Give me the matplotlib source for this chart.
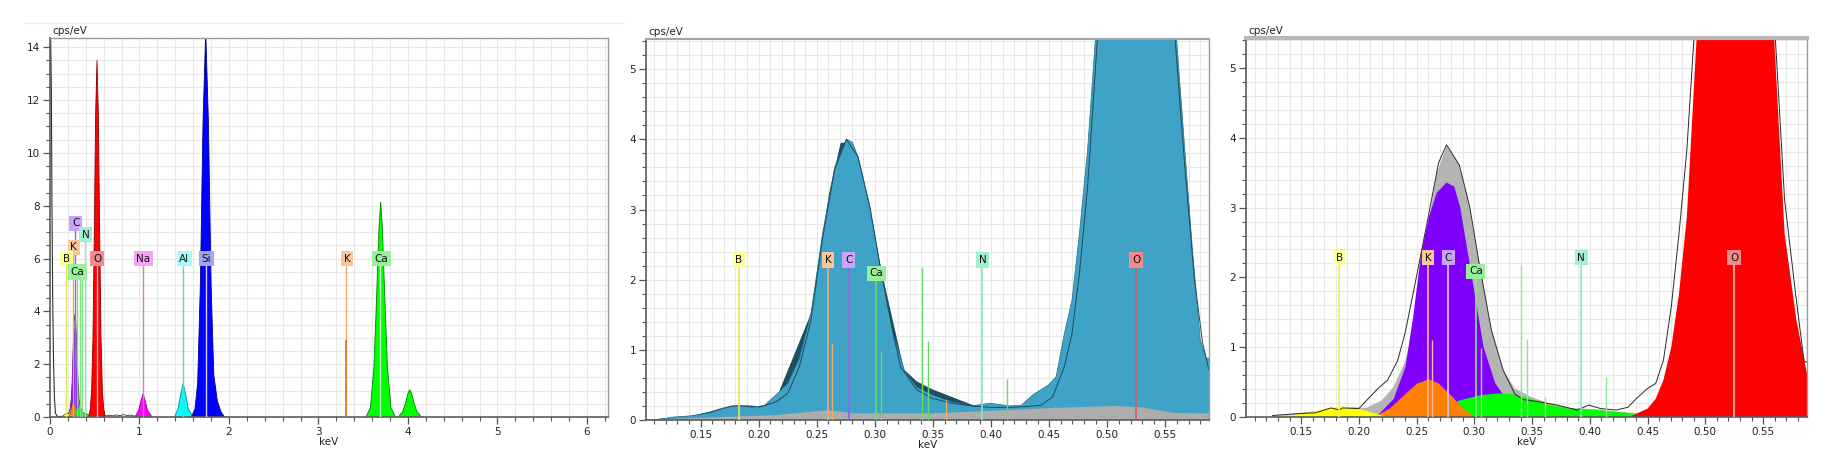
import matplotlib
matplotlib.use('Agg')
import matplotlib.pyplot as plt
from matplotlib.lines import Line2D
from matplotlib.ticker import MultipleLocator, FormatStrFormatter

# ---------------- data (keV, cps/eV) ----------------
# Panel 1: full spectrum peaks
noise_kev = [0.0, 0.008, 0.015, 0.022, 0.03, 0.04, 0.05, 0.06, 0.08, 0.10, 0.12]
noise_cps = [14.5, 14.2, 12.5, 8.0, 4.5, 2.0, 0.7, 0.15, 0.03, 0.02, 0.02]
base_kev = [0.62, 0.66, 0.70, 0.74, 0.78, 0.82, 0.86, 0.90, 0.95]
base_cps = [0.03, 0.07, 0.04, 0.08, 0.05, 0.09, 0.06, 0.07, 0.03]
o_kev = [0.4366, 0.45, 0.457, 0.4637, 0.4705, 0.4772, 0.484, 0.4925, 0.50, 0.51,
         0.525, 0.54, 0.55, 0.5595, 0.5686, 0.5788, 0.588, 0.60, 0.615]
o_cps = [0.02, 0.12, 0.26, 0.53, 1.0, 1.77, 2.87, 5.45, 8.0, 11.0,
         13.5, 11.0, 8.0, 5.45, 2.63, 1.39, 0.62, 0.2, 0.0]
o1_kev = [0.43, 0.45, 0.465, 0.48, 0.495, 0.51, 0.525, 0.54, 0.555, 0.57,
          0.585, 0.60, 0.62]
o1_cps = [0.0, 0.3, 1.0, 3.0, 7.0, 11.5, 13.5, 11.5, 7.0, 3.0,
          1.0, 0.3, 0.0]
na_kev = [0.95, 0.99, 1.015, 1.04, 1.065, 1.09, 1.14]
na_cps = [0.0, 0.25, 0.6, 0.88, 0.6, 0.25, 0.0]
al_kev = [1.39, 1.43, 1.46, 1.488, 1.515, 1.545, 1.60]
al_cps = [0.0, 0.3, 0.85, 1.29, 0.85, 0.3, 0.0]
si_kev = [1.58, 1.62, 1.65, 1.68, 1.71, 1.74, 1.77, 1.80, 1.83, 1.87, 1.91, 1.95]
si_cps = [0.0, 0.3, 1.3, 5.0, 11.2, 14.6, 11.2, 5.0, 1.6, 0.6, 0.2, 0.0]
caka_kev = [3.53, 3.58, 3.62, 3.65, 3.675, 3.695, 3.715, 3.74, 3.77, 3.81, 3.86]
caka_cps = [0.0, 0.35, 1.9, 4.6, 7.1, 8.13, 7.1, 4.6, 1.9, 0.35, 0.0]
cakb_kev = [3.89, 3.94, 3.975, 4.0, 4.02, 4.04, 4.065, 4.10, 4.15]
cakb_cps = [0.0, 0.2, 0.55, 0.9, 1.03, 0.9, 0.55, 0.2, 0.0]

# Low-energy region (panels 1 and 3): deconvolution
meas_kev = [0.1253, 0.132, 0.149, 0.1625, 0.176, 0.183, 0.186, 0.20, 0.208, 0.2167,
            0.225, 0.2336, 0.240, 0.2505, 0.2607, 0.269, 0.2759, 0.287, 0.296, 0.3047,
            0.3148, 0.325, 0.335, 0.342, 0.3554, 0.372, 0.389, 0.399, 0.4096, 0.423,
            0.433, 0.44, 0.450, 0.457, 0.4637, 0.4705, 0.4772, 0.484, 0.4908, 0.50,
            0.525, 0.55, 0.56, 0.5686, 0.5788, 0.5855, 0.588]
meas_cps = [0.02, 0.03, 0.05, 0.06, 0.13, 0.10, 0.13, 0.12, 0.26, 0.41,
            0.53, 0.81, 1.2, 2.06, 2.92, 3.64, 3.9, 3.61, 3.01, 2.15,
            1.24, 0.67, 0.33, 0.25, 0.22, 0.17, 0.10, 0.17, 0.12, 0.10,
            0.14, 0.26, 0.41, 0.48, 0.81, 1.58, 2.63, 3.83, 5.6, 9.0,
            14.0, 9.0, 5.6, 3.11, 1.67, 0.79, 0.79]
total_kev = [0.125, 0.152, 0.179, 0.196, 0.2065, 0.22, 0.23, 0.2404, 0.2471, 0.2539,
             0.2607, 0.2674, 0.2759, 0.286, 0.2945, 0.3047, 0.3148, 0.325, 0.335, 0.3486,
             0.3656, 0.3825, 0.406, 0.4366, 0.45]
total_cps = [0.01, 0.06, 0.13, 0.14, 0.13, 0.24, 0.43, 0.81, 1.29, 2.06,
             2.82, 3.49, 3.88, 3.64, 3.11, 2.15, 1.24, 0.67, 0.41, 0.29,
             0.19, 0.13, 0.11, 0.06, 0.05]
c_kev = [0.215, 0.2302, 0.2404, 0.2471, 0.2539, 0.2607, 0.2674, 0.2759, 0.2826, 0.2877,
         0.2945, 0.3013, 0.308, 0.3182, 0.3284, 0.342, 0.35]
c_cps = [0.0, 0.26, 0.72, 1.44, 2.34, 2.87, 3.21, 3.36, 3.30, 3.01,
         2.34, 1.67, 1.0, 0.48, 0.24, 0.05, 0.0]
k_kev = [0.2133, 0.2268, 0.2404, 0.2505, 0.2607, 0.2691, 0.281, 0.2911, 0.3013]
k_cps = [0.0, 0.12, 0.33, 0.48, 0.54, 0.48, 0.29, 0.10, 0.0]
ca_kev = [0.247, 0.2708, 0.2877, 0.3047, 0.3216, 0.3318, 0.3486, 0.3656, 0.3825, 0.406,
          0.4366, 0.45]
ca_cps = [0.0, 0.14, 0.24, 0.31, 0.34, 0.33, 0.26, 0.17, 0.12, 0.10,
          0.05, 0.0]
b_kev = [0.125, 0.1524, 0.166, 0.1794, 0.186, 0.1964, 0.2065, 0.22, 0.227]
b_cps = [0.0, 0.05, 0.10, 0.14, 0.15, 0.13, 0.09, 0.02, 0.0]

# Panel 2: measured spectra
blue_kev = [0.103, 0.115, 0.125, 0.142, 0.158, 0.173, 0.182, 0.195, 0.205, 0.215,
            0.225, 0.235, 0.245, 0.255, 0.2655, 0.2755, 0.2805, 0.2855, 0.2956, 0.3056,
            0.3157, 0.3257, 0.336, 0.349, 0.366, 0.383, 0.399, 0.416, 0.426, 0.436,
            0.4495, 0.456, 0.463, 0.4696, 0.476, 0.483, 0.490, 0.525, 0.5593, 0.5667,
            0.5733, 0.580, 0.5850, 0.5875]
blue_cps = [0.0, 0.01, 0.04, 0.06, 0.10, 0.18, 0.20, 0.18, 0.21, 0.36,
            0.52, 0.88, 1.52, 2.66, 3.61, 4.0, 3.96, 3.75, 3.04, 2.09,
            1.23, 0.69, 0.47, 0.36, 0.26, 0.20, 0.24, 0.20, 0.21, 0.36,
            0.50, 0.62, 1.23, 1.71, 2.66, 3.85, 5.5, 13.5, 5.5, 3.85,
            2.42, 1.14, 0.88, 0.88]
dark_kev = [0.103, 0.142, 0.158, 0.168, 0.178, 0.19, 0.205, 0.215, 0.245, 0.2605,
            0.2705, 0.2805, 0.325, 0.336, 0.349, 0.366, 0.383, 0.395, 0.41]
dark_cps = [0.0, 0.06, 0.12, 0.17, 0.21, 0.21, 0.19, 0.30, 1.52, 3.22,
            3.95, 3.96, 0.72, 0.55, 0.44, 0.33, 0.22, 0.18, 0.15]
fit_kev = [0.20, 0.215, 0.225, 0.235, 0.245, 0.255, 0.2655, 0.2755, 0.2855, 0.2956,
           0.3056, 0.3157, 0.322, 0.336, 0.349, 0.366, 0.383, 0.40, 0.416, 0.4295,
           0.443, 0.453, 0.463, 0.4696, 0.476, 0.483, 0.488, 0.4917, 0.525, 0.558,
           0.5667, 0.575, 0.582, 0.5875]
fit_cps = [0.18, 0.26, 0.38, 0.76, 1.42, 2.6, 3.58, 4.0, 3.75, 3.04,
           2.09, 1.23, 0.76, 0.43, 0.31, 0.24, 0.20, 0.18, 0.18, 0.19,
           0.21, 0.33, 0.76, 1.23, 2.09, 3.32, 4.56, 5.5, 13.5, 5.5,
           3.6, 2.0, 1.1, 0.71]
bg_kev = [0.103, 0.115, 0.215, 0.259, 0.282, 0.349, 0.399, 0.4495, 0.506, 0.53,
          0.557, 0.5875]
bg_cps = [0.0, 0.01, 0.07, 0.14, 0.095, 0.095, 0.13, 0.17, 0.20, 0.18,
          0.10, 0.095]

# Element line markers: (label, label x, label height, line keV)
p1_labels = [("C", 0.288, 7.34, 0.277), ("N", 0.40, 6.9, 0.392), ("K", 0.265, 6.43, 0.260),
             ("B", 0.186, 6.0, 0.183), ("O", 0.527, 6.0, 0.525), ("Na", 1.044, 6.0, 1.041),
             ("Al", 1.50, 6.0, 1.486), ("Si", 1.748, 6.0, 1.740), ("Ca", 0.31, 5.49, 0.302),
             ("K", 3.32, 6.0, 3.313), ("Ca", 3.70, 6.0, 3.691)]
zoom_labels = [("B", 0.183, 2.28), ("K", 0.2598, 2.28), ("C", 0.2775, 2.28),
               ("Ca", 0.3013, 2.09), ("N", 0.3925, 2.28), ("O", 0.5248, 2.28)]
minor_lines_kev = [0.2631, 0.3056, 0.3408, 0.3458, 0.3608, 0.4137]
minor_lines_cps = [1.10, 0.99, 2.18, 1.12, 0.28, 0.58]
minor_lines_el = ["K", "Ca", "Ca", "Ca", "K", "Ca"]

box_col = {"B": "#ffff99", "K": "#f8c79a", "C": "#c9a4fb", "Ca": "#9af09a",
           "N": "#a2f0cf", "O": "#f28c8c", "Na": "#f6a2f6", "Al": "#a4fbfb", "Si": "#a4a4f4"}
line_col2 = {"B": "#e4e458", "K": "#eeaa6a", "C": "#9a62ee", "Ca": "#62dc62",
             "N": "#86e4c4", "O": "#dc5a5a"}
line_col3 = {"B": "#eeee66", "K": "#f6b8a0", "C": "#dccafa", "Ca": "#8ee68e",
             "N": "#86e4c4", "O": "#ffb4b4"}
line_col1 = {"B": "#e4e458", "K": "#eeaa6a", "C": "#9a62ee", "Ca": "#7ee07e",
             "N": "#8ee8c8", "O": "#ffb4b4", "Na": "#d47ad4", "Al": "#66d0d6", "Si": "#d4d4ff"}

# ---------------- figure ----------------
plt.rcParams['font.family'] = ['DejaVu Sans']
fig = plt.figure(figsize=(18.38, 4.66), dpi=100)
W, H = 1838.0, 466.0


def axes_px(l, r, t, b):
    return fig.add_axes([l / W, 1 - b / H, (r - l) / W, (b - t) / H])


ax1 = axes_px(50, 608, 38, 417)
ax2 = axes_px(646, 1209, 39, 420)
ax3 = axes_px(1246, 1807, 38, 417)

fig.add_artist(Line2D([24 / W, 624 / W], [1 - 23 / H] * 2, color='#ececec', lw=1))


def style(ax, xlim, ylim, xmaj, xmin, ymaj, ymin, xfmt, ygrid, xgrid, top_lw, top_col):
    ax.set_xlim(*xlim)
    ax.set_ylim(*ylim)
    ax.xaxis.set_major_locator(MultipleLocator(xmaj))
    ax.xaxis.set_minor_locator(MultipleLocator(xmin))
    ax.yaxis.set_major_locator(MultipleLocator(ymaj))
    ax.yaxis.set_minor_locator(MultipleLocator(ymin))
    if xfmt:
        ax.xaxis.set_major_formatter(FormatStrFormatter(xfmt))
    for v in [i * xgrid for i in range(int(xlim[0] / xgrid), int(xlim[1] / xgrid) + 2)]:
        if xlim[0] < v < xlim[1]:
            ax.axvline(v, color='#e8e8e8', lw=0.8, zorder=0.2)
    for v in [i * ygrid for i in range(0, int(ylim[1] / ygrid) + 2)]:
        if 0 < v < ylim[1]:
            ax.axhline(v, color='#e8e8e8', lw=0.8, zorder=0.2)
    ax.tick_params(which='major', direction='out', length=5, width=0.9, color='#555555',
                   labelsize=7.5, labelcolor='#222222', pad=2)
    ax.tick_params(which='minor', direction='out', length=3, width=0.8, color='#555555')
    for s in ('left', 'bottom'):
        ax.spines[s].set_color('#5a5a5a')
        ax.spines[s].set_linewidth(1.2)
    ax.spines['right'].set_color('#9a9a9a')
    ax.spines['right'].set_linewidth(1.0)
    ax.spines['top'].set_color(top_col)
    ax.spines['top'].set_linewidth(top_lw)
    ax.set_xlabel('keV', fontsize=7.5, labelpad=0, color='#222222')
    ax.text(0.005, 1.004, 'cps/eV', transform=ax.transAxes, fontsize=7.5,
            va='bottom', ha='left', color='#222222')


def label(ax, s, x, y):
    ax.text(x, y, s, ha='center', va='center', fontsize=7.5, color='#111111', zorder=10,
            bbox=dict(boxstyle='square,pad=0.25', fc=box_col[s], ec='none'))


def area(ax, xs, ys, fc, ec=None, z=1, lw=0.6):
    ax.fill_between(xs, 0, ys, facecolor=fc, edgecolor='none', zorder=z)
    if ec:
        ax.plot(xs, ys, color=ec, lw=lw, zorder=z + 0.05)


# ---------- panel 1 ----------
style(ax1, (0, 6.235), (0, 14.35), 1, 0.2, 2, 0.5, None, 0.5, 0.2, 1.0, '#9a9a9a')
area(ax1, total_kev, total_cps, '#b4b4b4', '#303030', z=1)
area(ax1, c_kev, c_cps, '#8000ff', z=1.1)
area(ax1, ca_kev, ca_cps, '#00ff00', z=1.2)
area(ax1, k_kev, k_cps, '#ff8000', z=1.3)
area(ax1, b_kev, b_cps, '#ffff00', z=1.4)
area(ax1, o1_kev, o1_cps, '#ff0000', '#8b0000', z=1.5)
area(ax1, na_kev, na_cps, '#ff00ff', '#900090', z=1.5)
area(ax1, al_kev, al_cps, '#00ffff', '#008b8b', z=1.5)
area(ax1, si_kev, si_cps, '#0000ff', '#00008b', z=1.5)
area(ax1, caka_kev, caka_cps, '#00ff00', '#008000', z=1.5)
area(ax1, cakb_kev, cakb_cps, '#00ff00', '#008000', z=1.5)
ax1.plot(noise_kev, noise_cps, color='#303030', lw=0.8, zorder=2)
ax1.plot(base_kev, base_cps, color='#303030', lw=0.6, zorder=2)
for s, lx, ly, ex in p1_labels:
    col = line_col1.get(s, '#e8a060')
    if s == 'Ca' and ex > 3:
        col = '#c8ffc8'
    ax1.vlines(ex, 0, ly, colors=col, lw=1.0, zorder=3)
for ex in (0.335, 0.36):
    ax1.vlines(ex, 0, 5.49, colors='#7ee07e', lw=1.0, zorder=3)
ax1.vlines(3.313, 0, 2.9, colors='#d07a28', lw=1.2, zorder=3.1)
for s, lx, ly, ex in p1_labels:
    label(ax1, s, lx, ly)

# ---------- panel 2 ----------
style(ax2, (0.103, 0.5875), (0, 5.43), 0.05, 0.01, 1, 0.2, '%.2f', 0.2, 0.01, 1.5, '#a4a4a4')
area(ax2, dark_kev, dark_cps, '#1f4d5f', z=1)
area(ax2, blue_kev, blue_cps, '#3fa2c7', '#2a6f88', z=1.1, lw=0.5)
area(ax2, bg_kev, bg_cps, '#adadad', z=1.2)
ax2.plot(fit_kev, fit_cps, color='#1b4c5c', lw=0.7, zorder=1.3)
for ex, top, el in zip(minor_lines_kev, minor_lines_cps, minor_lines_el):
    ax2.vlines(ex, 0, top, colors=line_col2[el], lw=1.0, zorder=3)
for s, x, y in zoom_labels:
    ax2.vlines(x, 0, y, colors=line_col2[s], lw=1.2, zorder=3)
    label(ax2, s, x, y)

# ---------- panel 3 ----------
style(ax3, (0.1023, 0.588), (0, 5.43), 0.05, 0.01, 1, 0.2, '%.2f', 0.2, 0.01, 3.0, '#b8b8b8')
area(ax3, total_kev, total_cps, '#b4b4b4', z=1)
area(ax3, c_kev, c_cps, '#8000ff', z=1.1)
area(ax3, ca_kev, ca_cps, '#00ff00', z=1.2)
area(ax3, k_kev, k_cps, '#ff8000', z=1.3)
area(ax3, b_kev, b_cps, '#ffff00', z=1.4)
area(ax3, o_kev, o_cps, '#ff0000', z=1.5)
ax3.plot(meas_kev, meas_cps, color='#2a2a2a', lw=0.7, zorder=2)
for ex, top, el in zip(minor_lines_kev, minor_lines_cps, minor_lines_el):
    ax3.vlines(ex, 0, top, colors=line_col3[el], lw=1.0, zorder=3)
for s, x, y in zoom_labels:
    ax3.vlines(x, 0, y, colors=line_col3[s], lw=1.2, zorder=3)
    label(ax3, s, x, y)

fig.savefig('out.png', dpi=100)
